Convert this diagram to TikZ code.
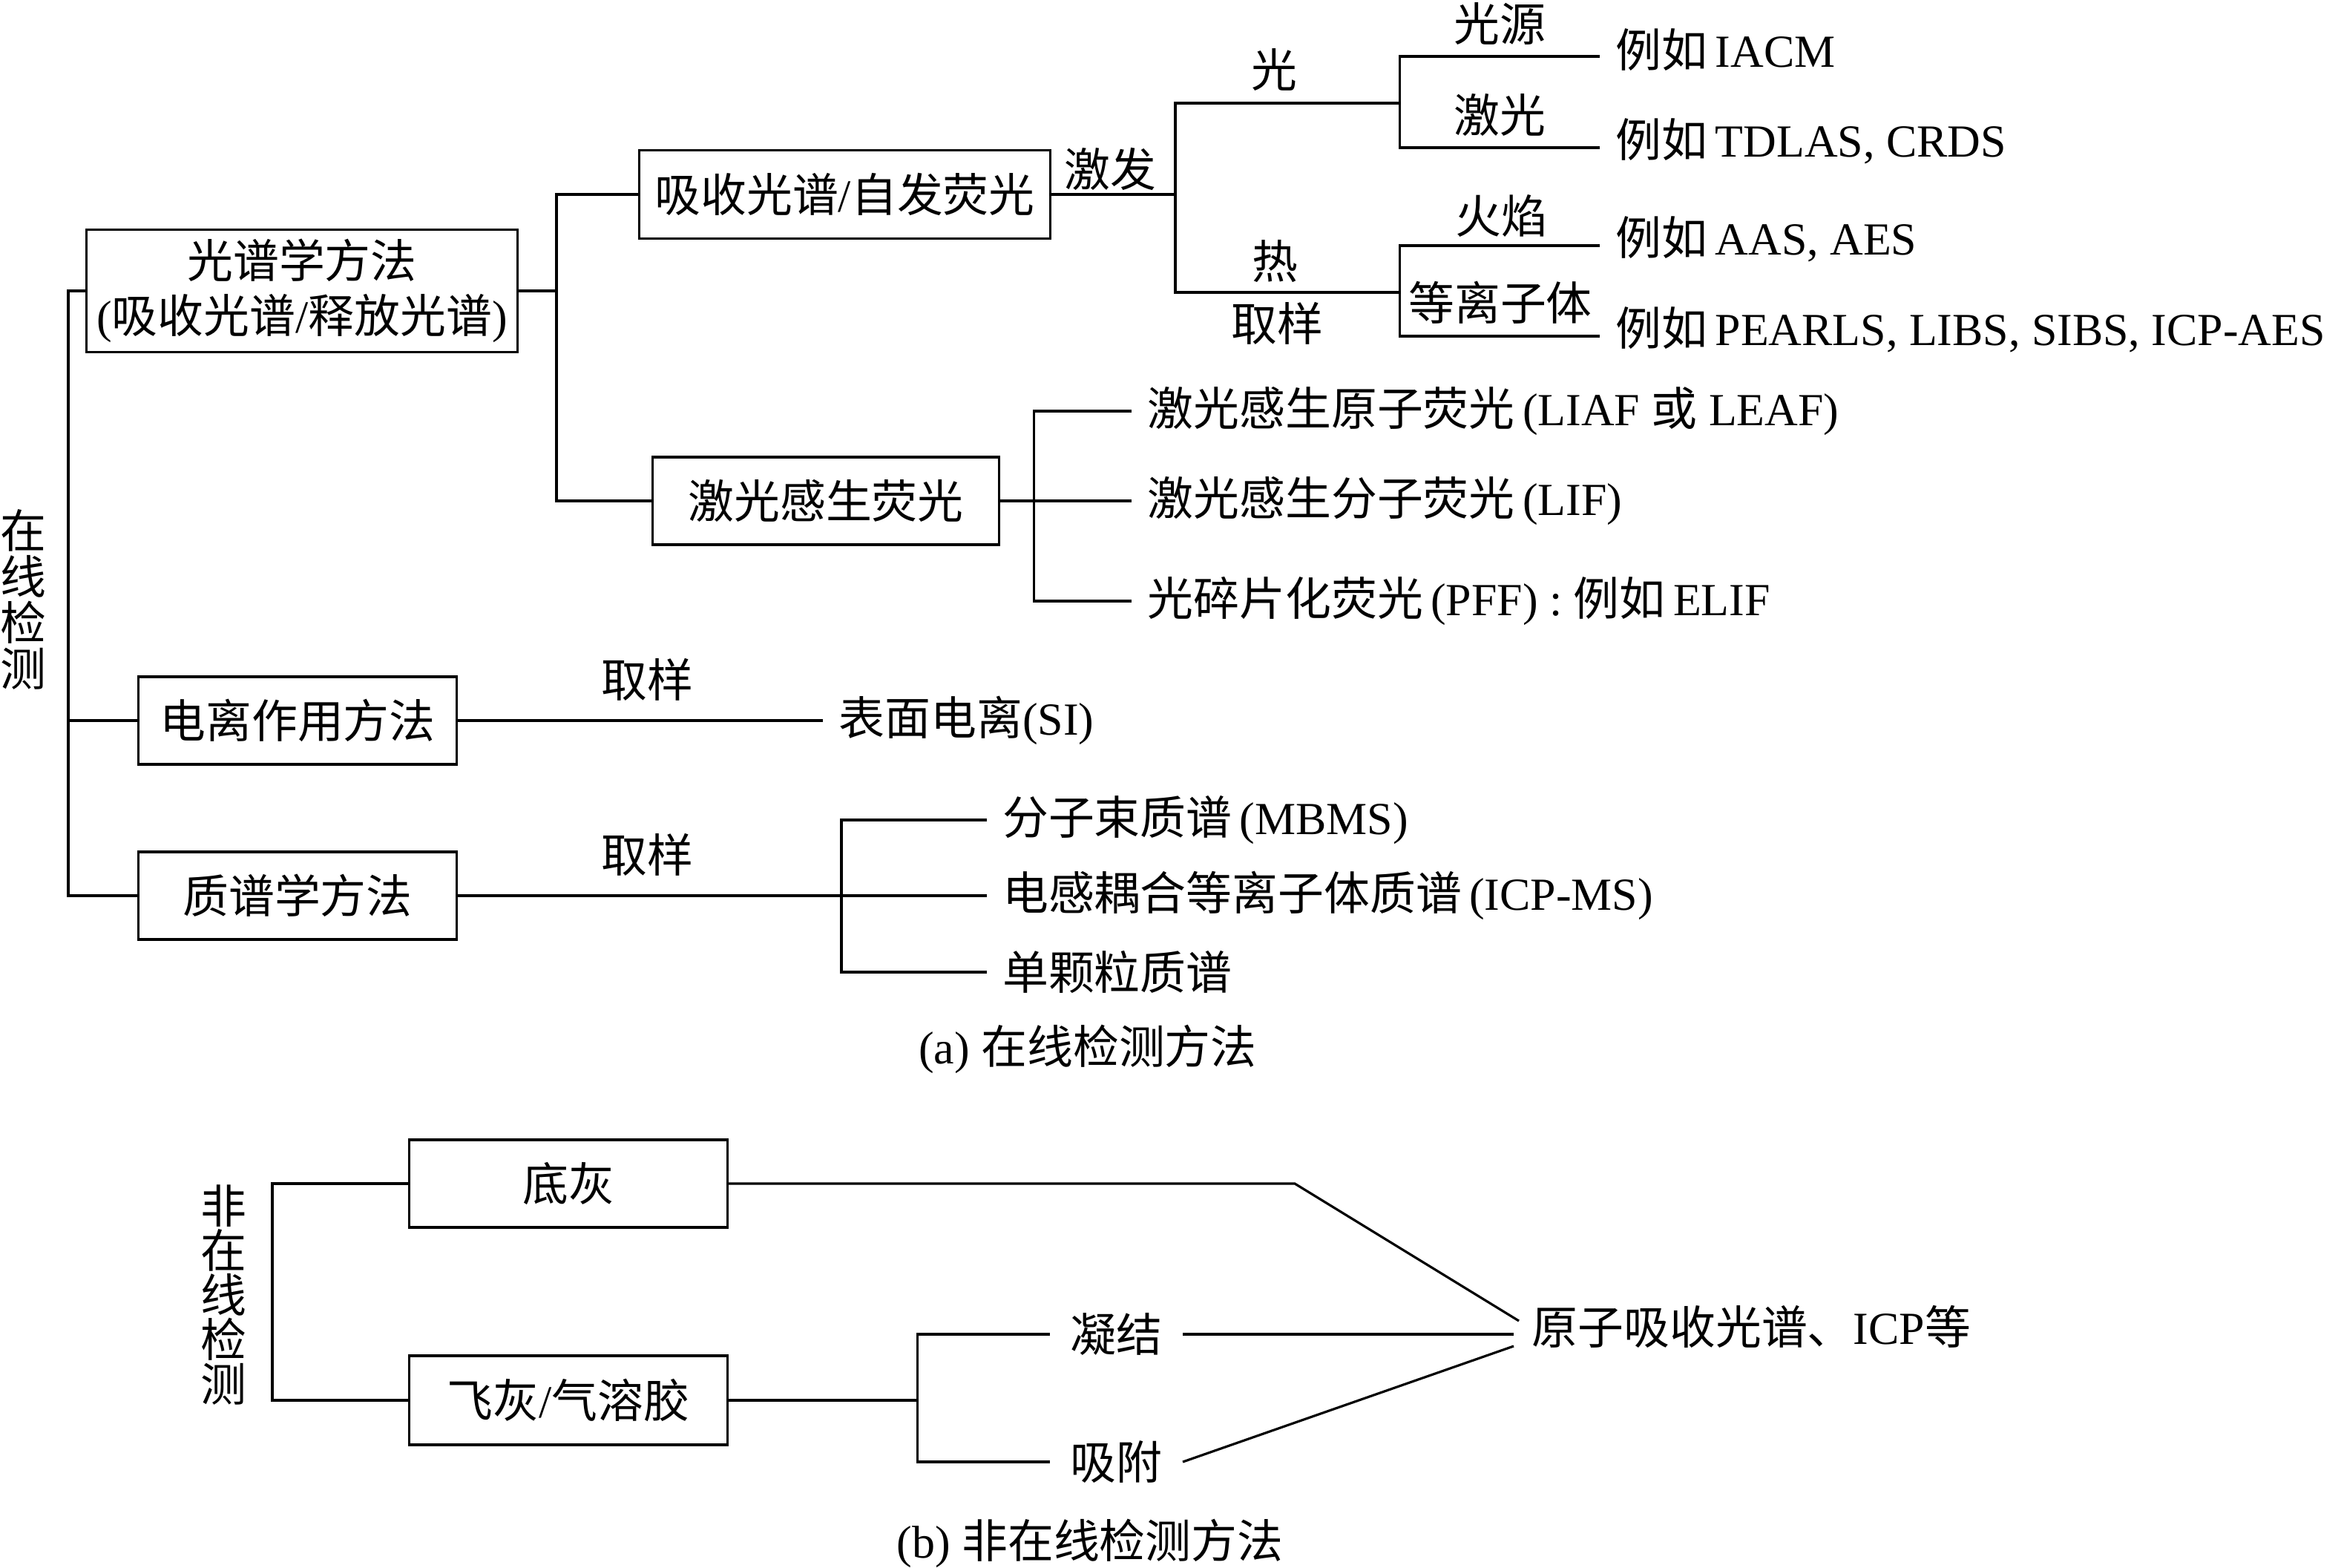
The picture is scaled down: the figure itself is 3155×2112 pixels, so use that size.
\documentclass[tikz,border=0pt]{standalone}
\usepackage{fontspec}
\setmainfont{Liberation Serif}
\newfontfamily\cjk{Noto Sans CJK SC}
\usetikzlibrary{calc}
\def\en#1{{\rmfamily #1}}
\def\eg#1{例如\,\en{#1}}

\begin{document}
\begin{tikzpicture}[x=0.01cm, y=-0.01cm, line width=0.9pt,
		every node/.style={font=\cjk\fontsize{17.6pt}{21pt}\selectfont, inner sep=0pt},
		methodbox/.style={draw, minimum height=1.18cm, align=center},
		leaf/.style={anchor=west, inner xsep=0.2cm},
		vlabel/.style={align=center, font=\cjk\fontsize{17.6pt}{17.6pt}\selectfont}]
		%%%%% START %%%%%
		\useasboundingbox (0,0) rectangle (3155,2112);
		
		% (a) online
		\node[vlabel] (online) at (31, 808) {在\\线\\检\\测};
		\node[methodbox, minimum width=5.81cm, minimum height=1.65cm] (spec) at (407, 392) {光谱学方法\\\en{(}吸收光谱\en{/}释放光谱\en{)}};
		\node[methodbox, minimum width=4.28cm] (ion) at (401, 971) {电离作用方法};
		\node[methodbox, minimum width=4.28cm] (mass) at (401, 1207) {质谱学方法};
		\coordinate (rootx) at (92, 0);
		\draw (spec.west) -| (rootx |- mass.west) -- (mass.west);
		\draw (ion.west) -- (ion.west -| rootx);
		
		\node[methodbox, minimum width=5.53cm, minimum height=1.19cm] (absorb) at (1138.5, 262) {吸收光谱\en{/}自发荧光};
		\node[methodbox, minimum width=4.66cm] (lif) at (1113, 675) {激光感生荧光};
		\coordinate (specfork) at (750, 392);
		\draw (spec.east) -- (specfork);
		\draw (absorb.west) -| (specfork |- lif.west) -- (lif.west);
		
		% excitation
		\coordinate (excfork) at (1584, 262);
		\coordinate (lightfork) at (1886.5, 139);
		\coordinate (heatfork) at (1886.5, 394);
		\draw (absorb.east) -- (excfork);
		\draw (lightfork) -- (lightfork -| excfork) -- (heatfork -| excfork) -- (heatfork);
		\node (exc) at (1496, 228) {激发};
		\node (light) at (1717, 94) {光};
		\node (heat) at (1718, 352) {热};
		\node (sampleA) at (1721, 436) {取样};
		
		\node[leaf] (iacm) at (2156, 67) {\eg{IACM}};
		\node[leaf] (tdlas) at (2156, 190) {\eg{TDLAS, CRDS}};
		\node[leaf] (aas) at (2156, 322) {\eg{AAS, AES}};
		\node[leaf] (pearls) at (2156, 444) {\eg{PEARLS, LIBS, SIBS, ICP-AES}};
		\draw (lightfork) |- ($(iacm.west)+(0,9)$);
		\draw (lightfork) |- ($(tdlas.west)+(0,9)$);
		\draw (heatfork) |- ($(aas.west)+(0,9)$);
		\draw (heatfork) |- ($(pearls.west)+(0,9)$);
		\node (source) at (2021, 32) {光源};
		\node (laser) at (2021, 155) {激光};
		\node (flame) at (2023, 291) {火焰};
		\node (plasma) at (2022, 408) {等离子体};
		
		% laser induced
		\coordinate (liffork) at (1393.5, 675);
		\node[leaf] (liaf) at (1525, 554) {激光感生原子荧光\en{\,(LIAF }或\en{ LEAF)}};
		\node[leaf] (lifm) at (1525, 675) {激光感生分子荧光\en{\,(LIF)}};
		\node[leaf] (pff) at (1525, 810) {光碎片化荧光\en{\,(PFF) : }\eg{ELIF}};
		\draw (lif.east) -- (lifm.west);
		\draw (liaf.west) -| (liffork |- pff.west) -- (pff.west);
		
		% ionisation
		\node[leaf] (si) at (1109, 971) {表面电离\en{(SI)}};
		\draw (ion.east) -- (si.west);
		\node (sampleB) at (872, 916) {取样};
		
		% mass spectrometry
		\coordinate (massfork) at (1134, 1207);
		\node[leaf] (mbms) at (1329.5, 1105) {分子束质谱\en{\,(MBMS)}};
		\node[leaf] (icpms) at (1329.5, 1207) {电感耦合等离子体质谱\en{\,(ICP-MS)}};
		\node[leaf] (single) at (1329.5, 1310) {单颗粒质谱};
		\draw (mass.east) -- (icpms.west);
		\draw (mbms.west) -| (massfork |- single.west) -- (single.west);
		\node (sampleC) at (872, 1152) {取样};
		
		\node (capa) at (1466, 1414) {\en{(a) }在线检测方法};
		
		% (b) offline
		\node[vlabel, font=\cjk\fontsize{17.6pt}{17pt}\selectfont] (offline) at (301, 1745) {非\\在\\线\\检\\测};
		\node[methodbox, minimum width=4.28cm] (bottom) at (766, 1595) {底灰};
		\node[methodbox, minimum width=4.28cm, minimum height=1.2cm] (fly) at (766, 1887) {飞灰\en{/}气溶胶};
		\coordinate (offx) at (367, 0);
		\draw (bottom.west) -| (offx |- fly.west) -- (fly.west);
		
		\coordinate (flyfork) at (1236.5, 1887);
		\node[inner xsep=0.26cm] (cond) at (1504.5, 1798) {凝结};
		\node[inner xsep=0.26cm] (adsorb) at (1504.5, 1970) {吸附};
		\draw (fly.east) -- (flyfork);
		\draw (cond.west) -| (flyfork |- adsorb.west) -- (adsorb.west);
		
		\node[leaf] (result) at (2043, 1788) {原子吸收光谱、\en{ICP}等};
		\coordinate (bend) at (1745, 1595);
		\draw (bottom.east) -- (bend) -- ($(result.west)+(4,-8)$);
		\draw (cond.east) -- ($(result.west)+(-3,10)$);
		\draw (adsorb.east) -- ($(result.west)+(-3,26)$);
		
		\node (capb) at (1469, 2080) {\en{(b) }非在线检测方法};
		%%%%% END %%%%%
\end{tikzpicture}
\end{document}
